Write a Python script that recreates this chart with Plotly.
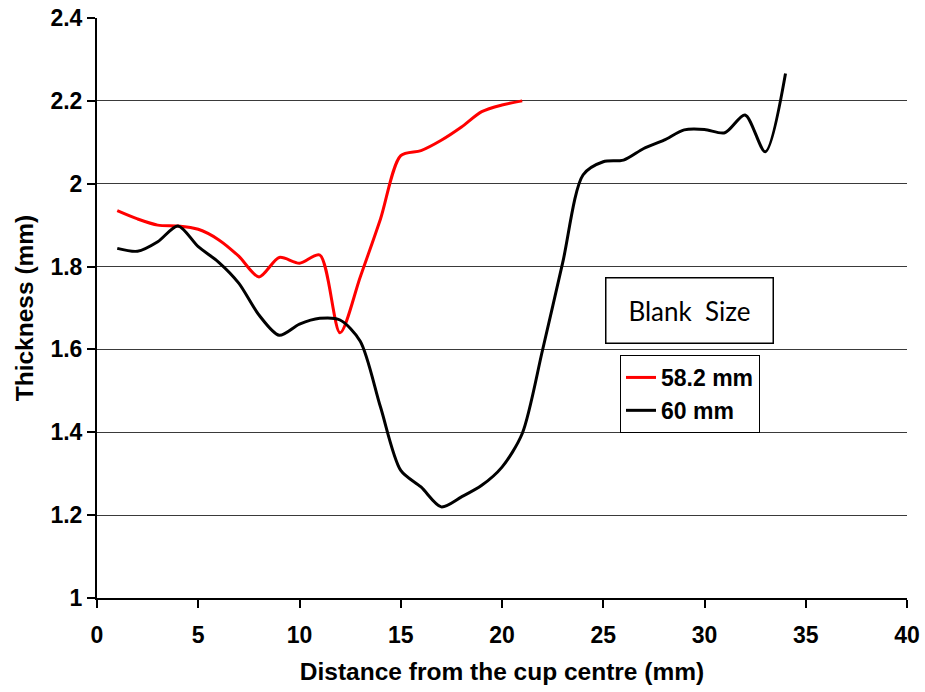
import plotly.graph_objects as go

# Thickness profiles along the cup wall, sampled every 1 mm from the centre
dist_582 = [1, 2, 3, 4, 5, 6, 7, 8, 9, 10, 11, 12, 13, 14, 15, 16, 17, 18, 19, 20, 21]
thick_582 = [1.935, 1.915, 1.900, 1.898, 1.890, 1.865, 1.825, 1.775, 1.822, 1.808, 1.828,
             1.640, 1.775, 1.915, 2.068, 2.080, 2.105, 2.137, 2.174, 2.190, 2.200]

dist_60 = list(range(1, 35))
thick_60 = [1.844, 1.837, 1.860, 1.898, 1.848, 1.811, 1.760, 1.683, 1.634, 1.661,
            1.675, 1.671, 1.620, 1.461, 1.308, 1.268, 1.220, 1.244, 1.272, 1.316,
            1.397, 1.598, 1.810, 2.021, 2.053, 2.057, 2.085, 2.105, 2.130, 2.131,
            2.123, 2.166, 2.077, 2.266]

x_ticks = [0, 5, 10, 15, 20, 25, 30, 35, 40]
y_ticks = [1.0, 1.2, 1.4, 1.6, 1.8, 2.0, 2.2, 2.4]
y_tick_labels = ["1", "1.2", "1.4", "1.6", "1.8", "2", "2.2", "2.4"]

FONT = "Liberation Sans, Arial, sans-serif"

fig = go.Figure()
fig.add_trace(go.Scatter(
    x=dist_582, y=thick_582, mode="lines", name="58.2 mm",
    line=dict(color="#ff0000", width=3, shape="spline", smoothing=0.8),
))
fig.add_trace(go.Scatter(
    x=dist_60, y=thick_60, mode="lines", name="60 mm",
    line=dict(color="#000000", width=3, shape="spline", smoothing=0.8),
))

fig.update_layout(
    width=925, height=692,
    margin=dict(l=97, r=18, t=18, b=94),
    paper_bgcolor="white", plot_bgcolor="white",
    font=dict(family=FONT, color="black"),
    legend=dict(
        x=0.6457, y=0.419, xanchor="left", yanchor="top",
        bgcolor="white", bordercolor="black", borderwidth=1,
        font=dict(family=FONT, size=23, weight="bold", color="black"),
        itemwidth=30,
    ),
    xaxis=dict(
        range=[0, 40], tickvals=x_ticks, ticks="outside", ticklen=8,
        tickcolor="black", tickwidth=1.5, automargin=False,
        showline=True, linecolor="black", linewidth=2, showgrid=False,
        zeroline=False, ticklabelstandoff=7,
        tickfont=dict(family=FONT, size=23, weight="bold"),
        title=dict(text="Distance from the cup centre (mm)",
                   font=dict(family=FONT, size=24.5, weight="bold"), standoff=16),
    ),
    yaxis=dict(
        range=[1, 2.4], tickvals=y_ticks, ticktext=y_tick_labels,
        ticks="outside", ticklen=8, tickcolor="black", tickwidth=1.5,
        showline=True, linecolor="black", linewidth=2, automargin=False,
        showgrid=True, gridcolor="#3a3a3a", gridwidth=1, zeroline=False,
        tickfont=dict(family=FONT, size=23, weight="bold"),
        title=dict(text="Thickness (mm)",
                   font=dict(family=FONT, size=24.5, weight="bold"), standoff=10),
    ),
)

fig.add_annotation(
    x=0.732, y=0.4957, xref="paper", yref="paper",
    xanchor="center", yanchor="middle",
    text="Blank  Size", showarrow=False,
    font=dict(family="Lato, Open Sans, sans-serif", size=26, color="black"),
    bordercolor="black", borderwidth=1.5, bgcolor="white",
    width=164, height=62, align="center", valign="middle",
)

fig.write_html("out.html")
